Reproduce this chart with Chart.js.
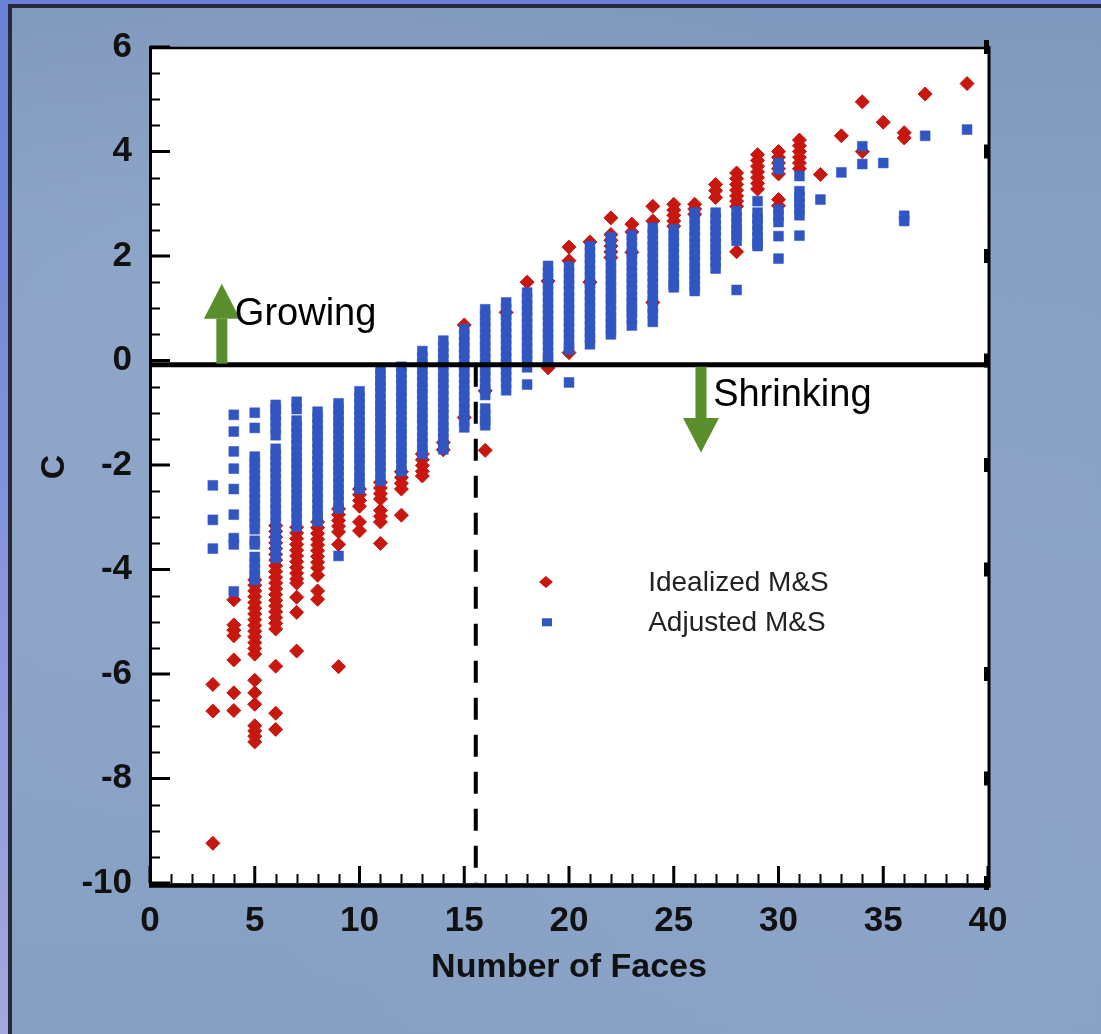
<!DOCTYPE html>
<html>
<head>
<meta charset="utf-8">
<script src="https://cdn.jsdelivr.net/npm/chart.js@4.4.1/dist/chart.umd.min.js"></script>
<style>
html,body{margin:0;padding:0;width:1101px;height:1034px;overflow:hidden;}
body{position:relative;background:linear-gradient(180deg,#6a80d8 0%,#7d8fdc 40%,#a3a8de 100%);}
#panel{position:absolute;left:8px;top:4px;width:1110px;height:1050px;border:4px solid #272b38;
 background:
  radial-gradient(ellipse at 25% 35%, rgba(160,178,210,0.35), rgba(0,0,0,0) 55%),
  radial-gradient(ellipse at 80% 80%, rgba(150,170,205,0.3), rgba(0,0,0,0) 50%),
  linear-gradient(180deg,#7f97bc 0%,#86a0c4 20%,#8aa2c6 60%,#86a0c4 100%);}
#c{position:absolute;left:0;top:0;}
</style>
</head>
<body>
<div id="panel"></div>
<canvas id="c" width="1101" height="1034"></canvas>
<script>
// ---------------- data ----------------
const faces = [3,4,5,6,7,8,9,10,11,12,13,14,15,16,17,18,19,20,21,22,23,24,25,26,27,28,29,30,31,32,33,34,35,36,37,39];

const adjustedC = [
 [-2.39,-3.05,-3.60],
 [-1.04,-1.36,-1.74,-2.07,-2.46,-2.95,-3.40,-3.52,-4.42],
 [-1.00,-1.29,-1.84,-1.95,-2.07,-2.19,-2.30,-2.42,-2.54,-2.65,-2.77,-2.88,-3.00,-3.11,-3.23,-3.45,-3.52,-3.76,-3.88,-3.99,-4.11,-4.20],
 [-0.85,-0.93,-1.05,-1.17,-1.29,-1.43,-1.69,-1.80,-1.92,-2.04,-2.15,-2.27,-2.39,-2.50,-2.62,-2.74,-2.85,-2.97,-3.09,-3.28,-3.40,-3.52,-3.64,-3.78],
 [-0.79,-0.93,-1.15,-1.27,-1.39,-1.50,-1.62,-1.74,-1.86,-1.97,-2.09,-2.21,-2.33,-2.44,-2.56,-2.68,-2.80,-2.91,-3.03,-3.18],
 [-0.98,-1.10,-1.22,-1.34,-1.45,-1.57,-1.69,-1.81,-1.92,-2.04,-2.16,-2.28,-2.39,-2.51,-2.63,-2.75,-2.86,-2.98,-3.08],
 [-0.82,-0.94,-1.06,-1.17,-1.29,-1.41,-1.53,-1.64,-1.76,-1.88,-2.00,-2.11,-2.23,-2.35,-2.47,-2.58,-2.70,-2.83,-3.74],
 [-0.59,-0.71,-0.83,-0.94,-1.06,-1.18,-1.30,-1.41,-1.53,-1.65,-1.77,-1.88,-2.00,-2.12,-2.24,-2.35,-2.46],
 [-0.15,-0.27,-0.39,-0.50,-0.62,-0.74,-0.86,-0.97,-1.09,-1.21,-1.33,-1.44,-1.56,-1.68,-1.80,-1.91,-2.03,-2.15,-2.30],
 [-0.12,-0.24,-0.36,-0.47,-0.59,-0.71,-0.83,-0.94,-1.06,-1.18,-1.30,-1.41,-1.53,-1.65,-1.77,-1.88,-2.00,-2.12],
 [0.18,0.06,-0.06,-0.17,-0.29,-0.41,-0.53,-0.64,-0.76,-0.88,-1.00,-1.11,-1.23,-1.35,-1.47,-1.58,-1.70,-1.79],
 [0.38,0.26,0.14,0.03,-0.09,-0.21,-0.33,-0.44,-0.56,-0.68,-0.80,-0.91,-1.03,-1.15,-1.27,-1.38,-1.50,-1.60,-1.70],
 [0.60,0.48,0.36,0.25,0.13,0.01,-0.11,-0.22,-0.34,-0.46,-0.58,-0.69,-0.81,-0.93,-1.05,-1.16,-1.28],
 [0.98,0.86,0.74,0.63,0.51,0.39,0.27,0.16,0.04,-0.08,-0.20,-0.31,-0.43,-0.55,-0.66,-0.92,-1.04,-1.15,-1.24],
 [1.11,0.99,0.87,0.76,0.64,0.52,0.40,0.29,0.17,0.05,-0.07,-0.18,-0.30,-0.42,-0.57],
 [1.30,1.18,1.06,0.95,0.83,0.71,0.59,0.48,0.36,0.24,0.12,0.01,-0.13,-0.46],
 [1.81,1.69,1.57,1.46,1.34,1.22,1.10,0.99,0.87,0.75,0.63,0.52,0.40,0.28,0.16,0.05,-0.03],
 [1.80,1.68,1.56,1.45,1.33,1.21,1.09,0.98,0.86,0.74,0.62,0.51,0.39,0.27,0.21,-0.42],
 [2.19,2.07,1.95,1.84,1.72,1.60,1.48,1.37,1.25,1.13,1.01,0.90,0.78,0.66,0.54,0.43,0.31],
 [2.36,2.24,2.12,2.01,1.89,1.77,1.65,1.54,1.42,1.30,1.18,1.07,0.95,0.83,0.71,0.60,0.50],
 [2.40,2.28,2.16,2.05,1.93,1.81,1.69,1.58,1.46,1.34,1.22,1.11,1.01,0.92,0.80,0.67],
 [2.54,2.42,2.30,2.19,2.07,1.95,1.83,1.72,1.60,1.48,1.36,1.25,1.14,1.01,0.90,0.74],
 [2.51,2.39,2.27,2.16,2.04,1.92,1.80,1.69,1.57,1.45,1.40],
 [2.83,2.71,2.59,2.48,2.36,2.24,2.12,2.01,1.89,1.77,1.65,1.54,1.42,1.33],
 [2.83,2.71,2.59,2.48,2.36,2.24,2.12,2.01,1.89,1.76],
 [2.86,2.74,2.62,2.51,2.40,2.29,1.35],
 [3.05,2.83,2.71,2.60,2.48,2.36,2.24,2.19],
 [3.78,3.66,2.89,2.77,2.65,2.38,1.95],
 [3.53,3.24,3.13,3.01,2.90,2.78,2.39],
 [3.08],
 [3.60],
 [4.10,3.76],
 [3.78],
 [2.77,2.67],
 [4.30],
 [4.42]
];

const idealizedC = [
 [-6.20,-6.71,-9.24],
 [-4.58,-5.06,-5.16,-5.27,-5.73,-6.36,-6.70],
 [-4.20,-4.30,-4.41,-4.52,-4.63,-4.74,-4.85,-4.96,-5.07,-5.18,-5.29,-5.40,-5.51,-5.62,-6.12,-6.36,-6.58,-6.99,-7.09,-7.19,-7.30],
 [-3.16,-3.27,-3.38,-3.49,-3.60,-3.71,-3.82,-3.93,-4.04,-4.15,-4.26,-4.37,-4.48,-4.59,-4.70,-4.81,-4.92,-5.03,-5.14,-5.85,-6.75,-7.06],
 [-3.19,-3.30,-3.41,-3.52,-3.63,-3.74,-3.85,-3.96,-4.07,-4.18,-4.26,-4.53,-4.82,-5.56],
 [-3.09,-3.20,-3.31,-3.42,-3.53,-3.64,-3.75,-3.86,-3.97,-4.11,-4.41,-4.57],
 [-2.84,-2.95,-3.06,-3.17,-3.28,-3.52,-5.86],
 [-2.46,-2.57,-2.68,-2.79,-3.09,-3.26],
 [-2.33,-2.44,-2.55,-2.65,-2.87,-2.98,-3.09,-3.50],
 [-2.13,-2.24,-2.35,-2.46,-2.96],
 [-1.79,-1.90,-2.01,-2.12,-2.21],
 [-1.57,-1.71],
 [0.68,-1.09],
 [-0.58,-1.72],
 [0.92],
 [1.50],
 [1.52,-0.14],
 [2.17,1.91,0.15],
 [2.27,1.50],
 [2.73,2.41,2.30,2.19,2.08,1.97],
 [2.61,2.46,2.07],
 [2.95,2.67,1.11],
 [2.99,2.88,2.78,2.67,2.57],
 [2.99,2.90,2.80],
 [3.37,3.25,3.12],
 [3.59,3.48,3.37,3.26,3.15,3.05,2.95,2.08],
 [3.94,3.83,3.72,3.61,3.50,3.39,3.28],
 [4.00,3.89,3.78,3.67,3.57,3.08,2.96],
 [4.22,4.11,4.00,3.89,3.78,3.67],
 [3.56],
 [4.30],
 [4.95,4.00],
 [4.56],
 [4.36,4.26],
 [5.10],
 [5.30]
];

const seriesNames = ['Idealized M&S', 'Adjusted M&S'];
const xTickValues = [0,5,10,15,20,25,30,35,40];
const yTickValues = [-10,-8,-6,-4,-2,0,2,4,6];

// horizontal growth boundary and critical-face dashed line (data coords)
const zeroLineX = [0, 40];
const zeroLineC = [-0.08, -0.08];
const criticalX = [15.55, 15.55];
const criticalC = [-0.08, -10];

// annotation anchors (data coords)
const arrowX = [3.43, 26.30];
const arrowBaseC = [0.80, -1.10];
const arrowTipC = [1.47, -1.76];
const noteText = ['Growing', 'Shrinking'];
const noteX = [4.05, 26.88];
const noteC = [0.67, -0.88];
const legendMarkX = [18.9, 18.95];
const legendTextX = [23.78, 23.78];
const legendC = [-4.24, -5.01];

// ---------------- build ----------------
function buildPoints(xs, groups) {
  const pts = [];
  groups.forEach((g, i) => g.forEach(v => pts.push({x: xs[i], y: v})));
  return pts;
}
const RED = '#c8170f', BLUE = '#3156c2', GREEN = '#5a8e2c';
const FONT = "'Liberation Sans', Arial, Helvetica, sans-serif";

const bgPlugin = {
  id: 'plotBg',
  beforeDatasetsDraw(chart) {
    const {ctx, chartArea: a} = chart;
    ctx.save();
    ctx.fillStyle = '#ffffff';
    ctx.fillRect(a.left, a.top, a.right - a.left, a.bottom - a.top);
    ctx.restore();
  }
};

const framePlugin = {
  id: 'frameTicks',
  afterDatasetsDraw(chart) {
    const {ctx, chartArea: a, scales: {x, y}} = chart;
    ctx.save();
    ctx.strokeStyle = '#000';
    ctx.fillStyle = '#000';
    ctx.lineWidth = 2;
    ctx.beginPath();
    for (let v = -10; v <= 6; v += 0.5) {
      if (v % 2 === 0) continue;
      const py = Math.round(y.getPixelForValue(v)) + 0.5;
      ctx.moveTo(a.left, py); ctx.lineTo(a.left + 10, py);
    }
    for (let v = 0; v <= 40; v += 1) {
      if (v % 5 === 0) continue;
      const px = Math.round(x.getPixelForValue(v)) + 0.5;
      ctx.moveTo(px, a.bottom); ctx.lineTo(px, a.bottom - 9);
    }
    ctx.stroke();
    ctx.lineWidth = 3;
    ctx.beginPath();
    yTickValues.forEach(v => {
      const py = y.getPixelForValue(v);
      ctx.moveTo(a.left, py); ctx.lineTo(a.left + 20, py);
    });
    xTickValues.forEach(v => {
      const px = x.getPixelForValue(v);
      ctx.moveTo(px, a.bottom); ctx.lineTo(px, a.bottom - 17);
    });
    ctx.stroke();
    yTickValues.forEach(v => {
      const py = y.getPixelForValue(v);
      ctx.fillRect(a.right - 4, py - 7, 5, 14);
    });
    ctx.lineWidth = 3;
    ctx.beginPath(); ctx.moveTo(a.left + 0.5, a.top - 1); ctx.lineTo(a.left + 0.5, a.bottom + 4); ctx.stroke();
    ctx.beginPath(); ctx.moveTo(a.right + 1, a.top - 1); ctx.lineTo(a.right + 1, a.bottom + 4); ctx.stroke();
    ctx.lineWidth = 2.5;
    ctx.beginPath(); ctx.moveTo(a.left, a.top + 1); ctx.lineTo(a.right + 2, a.top + 1); ctx.stroke();
    ctx.lineWidth = 4.5;
    ctx.beginPath(); ctx.moveTo(a.left - 1, a.bottom + 2.5); ctx.lineTo(a.right + 2.5, a.bottom + 2.5); ctx.stroke();
    ctx.restore();
  }
};

const notePlugin = {
  id: 'notes',
  afterDraw(chart) {
    const {ctx, scales: {x, y}} = chart;
    ctx.save();
    const zeroPx = y.getPixelForValue(zeroLineC[0]);
    arrowX.forEach((ax, i) => {
      const px = x.getPixelForValue(ax);
      const base = y.getPixelForValue(arrowBaseC[i]);
      const tip = y.getPixelForValue(arrowTipC[i]);
      const dir = tip < zeroPx ? -1 : 1;
      const start = zeroPx + dir * 2;
      ctx.fillStyle = GREEN;
      ctx.fillRect(px - 5.5, Math.min(start, base), 11, Math.abs(base - start) + 1);
      ctx.beginPath();
      ctx.moveTo(px - 18, base);
      ctx.lineTo(px + 18, base);
      ctx.lineTo(px, tip);
      ctx.closePath();
      ctx.fill();
    });
    ctx.fillStyle = '#000';
    ctx.font = '38px ' + FONT;
    ctx.textAlign = 'left';
    ctx.textBaseline = 'alphabetic';
    noteText.forEach((t, i) => ctx.fillText(t, x.getPixelForValue(noteX[i]), y.getPixelForValue(noteC[i])));
    const rx = x.getPixelForValue(legendMarkX[0]), ry = y.getPixelForValue(legendC[0]);
    ctx.fillStyle = RED;
    ctx.beginPath();
    ctx.moveTo(rx - 7, ry); ctx.lineTo(rx, ry - 6); ctx.lineTo(rx + 7, ry); ctx.lineTo(rx, ry + 6);
    ctx.closePath(); ctx.fill();
    const bx = x.getPixelForValue(legendMarkX[1]), by = y.getPixelForValue(legendC[1]);
    ctx.fillStyle = BLUE;
    ctx.fillRect(bx - 5, by - 4, 10, 8);
    ctx.fillStyle = '#222';
    ctx.font = '28px ' + FONT;
    ctx.textBaseline = 'middle';
    seriesNames.forEach((t, i) => ctx.fillText(t, x.getPixelForValue(legendTextX[i]), y.getPixelForValue(legendC[i]) + 1));
    ctx.fillStyle = '#111';
    ctx.font = 'bold 34px ' + FONT;
    ctx.textAlign = 'center';
    ctx.fillText('Number of Faces', (chart.chartArea.left + chart.chartArea.right) / 2, 968);
    ctx.translate(55, (chart.chartArea.top + chart.chartArea.bottom) / 2 + 2);
    ctx.rotate(-Math.PI / 2);
    ctx.fillText('C', 0, 0);
    ctx.restore();
  }
};

new Chart(document.getElementById('c'), {
  type: 'scatter',
  data: {
    datasets: [
      {
        label: seriesNames[0],
        data: buildPoints(faces, idealizedC),
        pointStyle: 'rectRot',
        pointRadius: 7,
        backgroundColor: RED,
        borderColor: RED,
        borderWidth: 1,
        order: 2
      },
      {
        label: seriesNames[1],
        data: buildPoints(faces, adjustedC),
        pointStyle: 'rect',
        pointRadius: 7,
        backgroundColor: BLUE,
        borderColor: BLUE,
        borderWidth: 0.5,
        order: 1
      },
      {
        type: 'line',
        label: 'zero',
        data: zeroLineX.map((v, i) => ({x: v, y: zeroLineC[i]})),
        borderColor: '#000',
        borderWidth: 5,
        pointRadius: 0,
        showLine: true,
        order: 0
      },
      {
        type: 'line',
        label: 'critical',
        data: criticalX.map((v, i) => ({x: v, y: criticalC[i]})),
        borderColor: '#000',
        borderWidth: 4,
        borderDash: [22, 15],
        pointRadius: 0,
        showLine: true,
        order: 0
      }
    ]
  },
  options: {
    responsive: false,
    devicePixelRatio: 1,
    animation: false,
    events: [],
    layout: {padding: {top: 47, right: 113, left: 0, bottom: 0}},
    plugins: {legend: {display: false}, tooltip: {enabled: false}},
    scales: {
      x: {
        type: 'linear',
        min: 0, max: 40,
        afterFit(s) { s.height = 151; },
        afterBuildTicks(s) { s.ticks = xTickValues.map(v => ({value: v})); },
        grid: {display: false, drawTicks: false},
        border: {display: false},
        ticks: {autoSkip: false, maxRotation: 0, padding: 17, color: '#111',
                font: {family: FONT, size: 35, weight: 'bold'}}
      },
      y: {
        type: 'linear',
        min: -10, max: 6,
        afterFit(s) { s.width = 150; },
        afterBuildTicks(s) { s.ticks = yTickValues.map(v => ({value: v})); },
        grid: {display: false, drawTicks: false},
        border: {display: false},
        ticks: {autoSkip: false, padding: 18, color: '#111',
                font: {family: FONT, size: 35, weight: 'bold'}}
      }
    }
  },
  plugins: [bgPlugin, framePlugin, notePlugin]
});
</script>
</body>
</html>
